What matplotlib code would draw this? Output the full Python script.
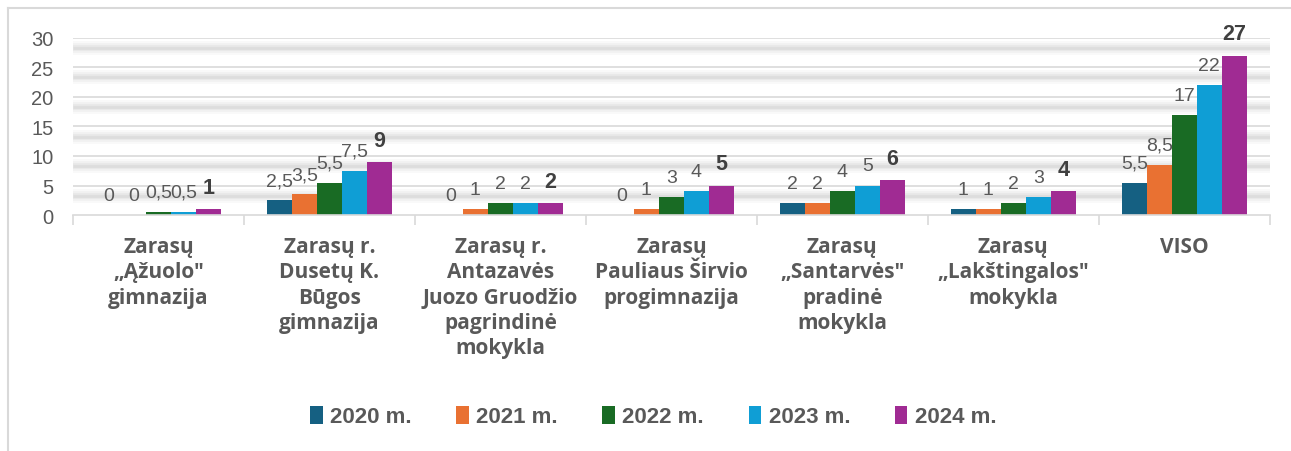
import numpy as np
import matplotlib.pyplot as plt
from matplotlib.lines import Line2D

# Data
categories = [
    'Zarasų\n„Ąžuolo"\ngimnazija',
    'Zarasų r.\nDusetų K.\nBūgos\ngimnazija',
    'Zarasų r.\nAntazavės\nJuozo Gruodžio\npagrindinė\nmokykla',
    'Zarasų\nPauliaus Širvio\nprogimnazija',
    'Zarasų\n„Santarvės"\npradinė\nmokykla',
    'Zarasų\n„Lakštingalos"\nmokykla',
    'VISO',
]
years = ['2020 m.', '2021 m.', '2022 m.', '2023 m.', '2024 m.']
v2020 = [0, 2.5, 0, 0, 2, 1, 5.5]
v2021 = [0, 3.5, 1, 1, 2, 1, 8.5]
v2022 = [0.5, 5.5, 2, 3, 4, 2, 17]
v2023 = [0.5, 7.5, 2, 4, 5, 3, 22]
v2024 = [1, 9, 2, 5, 6, 4, 27]
series = [v2020, v2021, v2022, v2023, v2024]
colors = ['#156082', '#E97132', '#196B24', '#0F9ED5', '#A02B93']
yticks = [0, 5, 10, 15, 20, 25, 30]

txt = '#595959'
grid = '#d9d9d9'

fig = plt.figure(figsize=(12.91, 4.52), dpi=100)
ax = fig.add_axes([0.0565, 0.522, 0.927, 0.392])

x = np.arange(len(categories))
n = len(series)
bw = 0.146
for i, (vals, c, lab) in enumerate(zip(series, colors, years)):
    pos = x + (i - (n - 1) / 2) * bw
    ax.bar(pos, vals, bw, color=c, label=lab, zorder=3)
    last = i == n - 1
    for px, v in zip(pos, vals):
        s = ('%g' % v).replace('.', ',')
        ax.annotate(s, (px, v), xytext=(0, 8), textcoords='offset points',
                    ha='center', va='bottom', color='#404040' if last else txt,
                    fontsize=15.5 if last else 14,
                    fontweight='bold' if last else 'normal',
                    family='Liberation Sans', zorder=4)

ax.set_xlim(-0.5, len(categories) - 0.5)
ax.set_ylim(0, 30)

# gridlines with soft shadow band below
for g in yticks[1:]:
    ax.axhline(g, color=grid, lw=1.2, zorder=1)
    for lw, a in [(10, 0.05), (7, 0.07), (4, 0.09), (2, 0.1)]:
        ax.axhline(g - 1.7, color='#8c8c8c', lw=lw, alpha=a, zorder=0,
                   solid_capstyle='butt')

for s in ['top', 'right', 'left']:
    ax.spines[s].set_visible(False)
ax.spines['bottom'].set_color(grid)
ax.spines['bottom'].set_linewidth(1.2)
ax.spines['bottom'].set_zorder(5)

ax.set_yticks(yticks)
ax.tick_params(axis='y', length=0, labelsize=14.5, labelcolor=txt, pad=14)
for t in ax.get_yticklabels():
    t.set_family('Liberation Sans')

ax.set_xticks(x)
ax.set_xticklabels(categories, fontsize=15, fontweight='bold', color=txt,
                   family='Open Sans', linespacing=1.27)
ax.tick_params(axis='x', length=0, pad=15)
ax.set_xticks(np.arange(-0.5, len(categories)), minor=True)
ax.tick_params(axis='x', which='minor', length=7, color=grid, width=1.2)

leg = fig.legend(loc='center', bbox_to_anchor=(0.506, 0.076), ncol=5,
                 frameon=False, handlelength=0.55, handleheight=0.85,
                 handletextpad=0.35, columnspacing=2.0,
                 prop={'family': 'Liberation Sans', 'weight': 'bold', 'size': 16})
for t in leg.get_texts():
    t.set_color(txt)

# chart area border (left and top)
fig.add_artist(Line2D([8 / 1291, 8 / 1291], [0, 1 - 9 / 452],
                      transform=fig.transFigure, color=grid, lw=1.5))
fig.add_artist(Line2D([8 / 1291, 1], [1 - 9 / 452, 1 - 9 / 452],
                      transform=fig.transFigure, color=grid, lw=1.5))

fig.savefig('out.png', dpi=100)
